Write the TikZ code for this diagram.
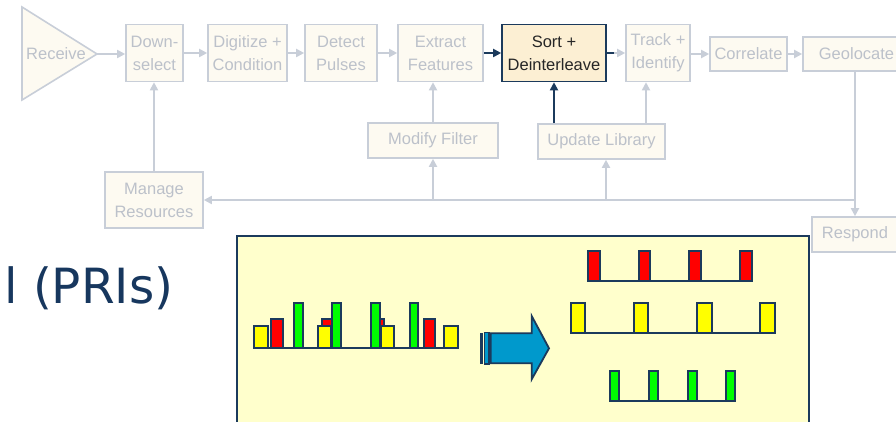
\documentclass[tikz,border=0pt]{standalone}
\usepackage{fontspec}
\setmainfont{Liberation Sans}
\newfontfamily\titlefont{DejaVu Sans}
\usetikzlibrary{arrows.meta}
\definecolor{lightline}{HTML}{C8CED8}
\definecolor{lighttext}{HTML}{BCC1CA}
\definecolor{lightfill}{HTML}{FDFAF1}
\definecolor{navy}{HTML}{1B3A5C}
\definecolor{sortfill}{HTML}{FCEFD3}
\definecolor{panelfill}{HTML}{FFFFCC}
\definecolor{pulsered}{HTML}{FF0000}
\definecolor{pulseyellow}{HTML}{FFFF00}
\definecolor{pulsegreen}{HTML}{00FF00}
\definecolor{arrowblue}{HTML}{0099CC}
\definecolor{titleblue}{HTML}{17375E}
\tikzset{
  box/.style={draw=lightline, fill=lightfill, line width=1.6pt, text=lighttext,
    font=\fontsize{16.5}{23}\selectfont, align=center, inner sep=0pt},
  activebox/.style={box, draw=navy, fill=sortfill, text=black!85},
  flow/.style={draw=lightline, line width=1.8pt, -{Triangle[length=8pt,width=8pt]}},
  darkflow/.style={draw=navy, line width=1.8pt, -{Triangle[length=8pt,width=8pt]}},
  pulse/.style={draw=navy, line width=1.8pt},
  trainline/.style={draw=navy, line width=1.8pt},
}
\begin{document}
\begin{tikzpicture}[x=1pt,y=-1pt]
\useasboundingbox (0,0) rectangle (896,422);
\clip (0,0) rectangle (896,422);

% processing chain
\draw[draw=lightline, fill=lightfill, line width=1.6pt] (22,7) -- (97,54) -- (22,100) -- cycle;
\coordinate (rxtip) at (97,54);
\node[text=lighttext, font=\fontsize{16.5}{23}\selectfont] (rx) at (56,54) {Receive};

\node[box, minimum width=57pt, minimum height=57pt] (down) at (154.5,53) {Down-\\select};
\node[box, minimum width=79pt, minimum height=57pt] (dig) at (247.5,53) {Digitize +\\Condition};
\node[box, minimum width=72pt, minimum height=57pt] (det) at (341,53) {Detect\\Pulses};
\node[box, minimum width=85pt, minimum height=57pt] (ext) at (440.5,53) {Extract\\Features};
\node[activebox, minimum width=104pt, minimum height=57pt] (sort) at (554,53) {Sort +\\Deinterleave};
\node[box, minimum width=64pt, minimum height=57pt] (track) at (658,53) {Track +\\Identify};
\node[box, minimum width=77pt, minimum height=34pt] (corr) at (748.5,54) {Correlate};
\node[box, minimum width=107pt, minimum height=34pt] (geo) at (856.5,54) {Geolocate};

\node[box, minimum width=98pt, minimum height=56pt] (manage) at (154,200) {Manage\\Resources};
\node[box, minimum width=130pt, minimum height=35pt] (modify) at (433,140.5) {Modify Filter};
\node[box, minimum width=127pt, minimum height=35pt] (update) at (601.5,141.5) {Update Library};
\node[box, minimum width=86pt, minimum height=35pt] (respond) at (855,234.5) {Respond};

\draw[flow] (rxtip) -- (down.west |- rxtip);
\draw[flow] (down.east) -- (dig.west);
\draw[flow] (dig.east) -- (det.west);
\draw[flow] (det.east) -- (ext.west);
\draw[darkflow] (ext.east) -- (sort.west);
\draw[flow] (sort.east) -- (track.west);
\draw[navy, line width=1.8pt] (sort.east) -- ++(7,0);
\draw[flow] (track.east |- corr.west) -- (corr.west);
\draw[flow] (corr.east) -- (geo.west);

% feedback paths
\coordinate (fb) at (855,200);
\draw[flow] (geo.south -| respond.north) -- (respond.north);
\draw[flow] (fb) -- (manage.east);
\draw[flow] (manage.north) -- (manage.north |- down.south);
\draw[flow] (modify.south |- fb) -- (modify.south);
\draw[flow] (modify.north) -- (modify.north |- ext.south);
\draw[flow] ([xshift=4.5pt]update.south |- fb) -- ([xshift=4.5pt]update.south);
\draw[darkflow] (update.north -| sort.south) -- (sort.south);
\draw[flow] ([xshift=-12pt]update.north -| track.south) -- ([xshift=-12pt]track.south);

% title fragment
\node[anchor=base west, inner sep=0pt, text=titleblue, font=\titlefont\fontsize{48.5}{56}\selectfont] (pri) at (4,303) {l (PRIs)};

% deinterleaving panel
\draw[fill=panelfill, draw=navy, line width=1.8pt] (237,236) rectangle (809,440);

% interleaved train
\draw[trainline] (254,347.7) -- (458,347.7);
\foreach \a/\b in {271/283, 322/332, 377/384, 424/435}
  \draw[pulse, fill=pulsered] (\a,318.7) rectangle (\b,347.7);
\foreach \a/\b in {294/303, 332/341, 371/380, 410/418}
  \draw[pulse, fill=pulsegreen] (\a,303.3) rectangle (\b,347.7);
\foreach \a/\b in {254/268, 318/331, 381/394, 444/458}
  \draw[pulse, fill=pulseyellow] (\a,325.7) rectangle (\b,347.7);

% block arrow
\fill[navy] (480,332.7) rectangle (483.3,364);
\draw[pulse, fill=arrowblue, line width=1.2pt] (484.5,332.7) rectangle (489,364);
\draw[pulse, fill=arrowblue, line join=miter] (490.7,333.3) -- (531.7,333.3) -- (531.7,316) -- (549,348.3)
  -- (531.7,379.3) -- (531.7,363.3) -- (490.7,363.3) -- cycle;

% separated trains
\draw[trainline] (587.7,280.7) -- (752,280.7);
\foreach \a/\b in {587.7/600, 638.7/650.3, 689.3/701.3, 740.3/752}
  \draw[pulse, fill=pulsered] (\a,251) rectangle (\b,280.7);
\draw[trainline] (570.7,332.7) -- (775,332.7);
\foreach \a/\b in {570.7/585.3, 634/648.3, 697.3/711.7, 760.3/775}
  \draw[pulse, fill=pulseyellow] (\a,303.3) rectangle (\b,332.7);
\draw[trainline] (610,400.7) -- (735,400.7);
\foreach \a/\b in {610/619.3, 649/658, 687.7/696.7, 726/735}
  \draw[pulse, fill=pulsegreen] (\a,370.7) rectangle (\b,400.7);
\end{tikzpicture}
\end{document}
